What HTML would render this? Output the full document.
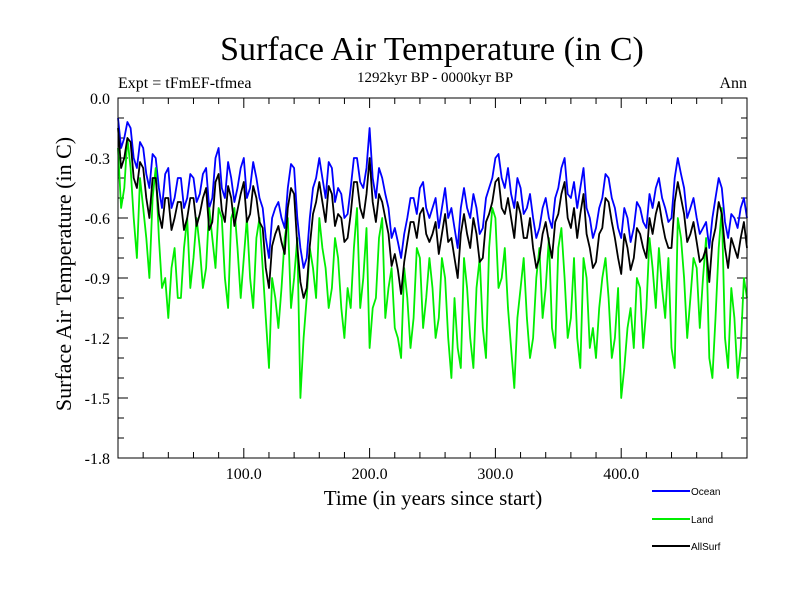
<!DOCTYPE html>
<html><head><meta charset="utf-8"><style>
body{margin:0;background:#fff;}
svg{display:block;font-family:"Liberation Serif",serif;}
</style></head><body>
<svg id="chart" width="800" height="600" viewBox="0 0 800 600">
<text x="432" y="60" font-size="34" text-anchor="middle">Surface Air Temperature (in C)</text>
<text x="118" y="88" font-size="16">Expt = tFmEF-tfmea</text>
<text x="435" y="82" font-size="15" text-anchor="middle">1292kyr BP - 0000kyr BP</text>
<text x="747" y="88" font-size="16" text-anchor="end">Ann</text>
<text transform="translate(71,274) rotate(-90)" font-size="22" text-anchor="middle">Surface Air Temperature (in C)</text>
<text x="433" y="505" font-size="21" text-anchor="middle">Time (in years since start)</text>
<g id="ticks"></g>
<g id="series"></g>
<rect x="118" y="98" width="629" height="360" fill="none" stroke="#000" stroke-width="1"/>
<g font-family="Liberation Sans, sans-serif" font-size="10">
<line x1="652" y1="491" x2="690" y2="491" stroke="#0000ff" stroke-width="2"/>
<text x="691" y="495">Ocean</text>
<line x1="652" y1="519" x2="690" y2="519" stroke="#00ee00" stroke-width="2"/>
<text x="691" y="523">Land</text>
<line x1="652" y1="546" x2="690" y2="546" stroke="#000" stroke-width="2"/>
<text x="691" y="550">AllSurf</text>
</g>
</svg>
<script>
const ocean = [-0.10,-0.20,-0.15,-0.35,-0.25,-0.45,-0.30,-0.55,-0.35,-0.50,-0.40,-0.50,-0.40,-0.48,-0.35,-0.50,-0.25,-0.50,-0.40,-0.45,-0.30,-0.45,-0.40,-0.55,-0.80,-0.55,-0.60,-0.45,-0.35,-0.75,-0.80,-0.45,-0.30,-0.50,-0.35,-0.45,-0.60,-0.45,-0.30,-0.45,-0.15,-0.50,-0.40,-0.55,-0.65,-0.80,-0.60,-0.50,-0.45,-0.55,
-0.55,-0.65,-0.45,-0.55,-0.75,-0.45,-0.60,-0.55,-0.65,-0.45,-0.30,-0.40,-0.35,-0.55,-0.45,-0.55,-0.60,-0.65,-0.50,-0.65,-0.45,-0.30,-0.50,-0.55,-0.35,-0.60,-0.65,-0.50,-0.40,-0.55,-0.70,-0.60,-0.65,-0.55,-0.65,-0.55,-0.40,-0.55,-0.60,-0.30,-0.45,-0.55,-0.60,-0.65,-0.75,-0.50,-0.45,-0.70,-0.60,-0.55,-0.60];
const oceanMid = [-0.25,-0.12,-0.30,-0.22,-0.38,-0.28,-0.45,-0.38,-0.55,-0.40,-0.55,-0.38,-0.52,-0.38,-0.55,-0.30,-0.45,-0.32,-0.52,-0.35,-0.50,-0.32,-0.50,-0.70,-0.60,-0.52,-0.65,-0.33,-0.60,-0.85,-0.60,-0.40,-0.40,-0.32,-0.52,-0.48,-0.58,-0.30,-0.42,-0.35,-0.40,-0.35,-0.48,-0.70,-0.72,-0.68,-0.50,-0.58,-0.42,-0.60,
-0.50,-0.55,-0.60,-0.65,-0.55,-0.55,-0.48,-0.68,-0.50,-0.40,-0.28,-0.45,-0.48,-0.40,-0.58,-0.48,-0.70,-0.55,-0.60,-0.50,-0.35,-0.48,-0.42,-0.45,-0.55,-0.70,-0.55,-0.38,-0.50,-0.65,-0.55,-0.72,-0.52,-0.62,-0.48,-0.45,-0.50,-0.62,-0.40,-0.38,-0.60,-0.50,-0.68,-0.62,-0.60,-0.40,-0.62,-0.58,-0.65,-0.50];
const land = [-0.25,-0.45,-0.35,-0.80,-0.55,-0.90,-0.35,-0.95,-1.10,-0.75,-1.00,-0.60,-0.80,-0.75,-0.85,-0.70,-0.55,-0.90,-0.60,-0.75,-0.80,-0.90,-0.70,-0.85,-1.35,-1.00,-0.95,-0.60,-0.90,-1.50,-1.00,-0.85,-0.60,-0.85,-0.95,-0.80,-1.20,-1.05,-0.55,-0.90,-1.25,-1.00,-0.60,-0.95,-1.15,-1.30,-1.00,-1.10,-0.80,-1.00,
-0.95,-1.10,-0.90,-1.40,-1.25,-0.80,-1.20,-0.95,-1.15,-0.75,-0.60,-0.90,-1.05,-1.45,-0.95,-1.10,-1.20,-0.75,-0.95,-1.15,-0.75,-0.90,-1.10,-1.20,-0.80,-1.25,-1.30,-0.90,-1.00,-1.20,-1.50,-1.15,-1.25,-0.95,-1.05,-0.85,-0.75,-1.10,-1.25,-0.60,-0.90,-1.00,-0.85,-0.90,-1.30,-1.10,-0.55,-1.35,-1.10,-1.25,-1.00];
const landMid = [-0.55,-0.20,-0.60,-0.40,-0.70,-0.50,-0.70,-0.90,-0.85,-1.00,-0.75,-0.95,-0.60,-0.95,-0.55,-0.85,-0.60,-1.05,-0.55,-1.00,-0.60,-1.05,-0.60,-1.10,-0.90,-1.15,-0.70,-1.05,-0.70,-1.20,-0.75,-1.00,-0.75,-1.05,-0.70,-1.05,-0.95,-0.75,-1.05,-0.65,-1.05,-0.70,-1.10,-0.85,-1.20,-0.85,-1.25,-0.75,-1.15,-0.80,
-1.20,-0.80,-1.20,-1.00,-1.35,-0.95,-1.35,-0.80,-1.30,-0.55,-0.95,-0.75,-1.25,-1.10,-0.80,-1.30,-0.90,-1.10,-0.70,-1.25,-0.65,-1.20,-0.80,-1.35,-0.90,-1.15,-1.05,-0.80,-1.30,-0.95,-1.35,-1.05,-0.90,-1.25,-0.70,-1.05,-0.95,-0.80,-1.35,-0.70,-1.20,-0.80,-1.15,-0.70,-1.40,-0.75,-1.20,-0.95,-1.40,-0.90];
const allsurf = [-0.15,-0.30,-0.22,-0.45,-0.35,-0.60,-0.40,-0.65,-0.50,-0.60,-0.52,-0.60,-0.50,-0.58,-0.45,-0.62,-0.38,-0.62,-0.50,-0.56,-0.42,-0.58,-0.50,-0.65,-0.95,-0.68,-0.72,-0.55,-0.48,-0.92,-0.95,-0.58,-0.42,-0.62,-0.48,-0.58,-0.72,-0.58,-0.42,-0.60,-0.30,-0.62,-0.52,-0.68,-0.78,-0.98,-0.72,-0.62,-0.58,-0.68,
-0.68,-0.78,-0.58,-0.70,-0.90,-0.58,-0.75,-0.68,-0.80,-0.58,-0.42,-0.55,-0.50,-0.70,-0.58,-0.70,-0.75,-0.80,-0.62,-0.80,-0.58,-0.42,-0.65,-0.70,-0.48,-0.75,-0.82,-0.65,-0.52,-0.70,-0.88,-0.75,-0.80,-0.68,-0.80,-0.68,-0.52,-0.70,-0.75,-0.42,-0.58,-0.68,-0.72,-0.80,-0.92,-0.65,-0.58,-0.85,-0.75,-0.70,-0.75];
const allsurfMid = [-0.35,-0.20,-0.40,-0.32,-0.50,-0.40,-0.58,-0.50,-0.66,-0.52,-0.66,-0.50,-0.64,-0.50,-0.66,-0.42,-0.56,-0.44,-0.64,-0.48,-0.62,-0.44,-0.62,-0.85,-0.74,-0.64,-0.78,-0.45,-0.74,-1.00,-0.74,-0.52,-0.52,-0.44,-0.64,-0.60,-0.70,-0.42,-0.55,-0.48,-0.52,-0.48,-0.60,-0.84,-0.86,-0.82,-0.62,-0.70,-0.55,-0.72,
-0.62,-0.68,-0.72,-0.80,-0.68,-0.68,-0.60,-0.82,-0.62,-0.52,-0.40,-0.58,-0.60,-0.52,-0.70,-0.60,-0.85,-0.68,-0.72,-0.62,-0.48,-0.60,-0.55,-0.58,-0.68,-0.85,-0.68,-0.50,-0.62,-0.80,-0.68,-0.86,-0.65,-0.75,-0.60,-0.58,-0.62,-0.75,-0.52,-0.50,-0.72,-0.62,-0.82,-0.75,-0.72,-0.52,-0.75,-0.70,-0.80,-0.62];
const yTicks = [0.0,-0.3,-0.6,-0.9,-1.2,-1.5,-1.8];
const yTickLabels = ["0.0","-0.3","-0.6","-0.9","-1.2","-1.5","-1.8"];
const xTicks = [100,200,300,400];
const xTickLabels = ["100.0","200.0","300.0","400.0"];
const STEP = 5;

const X0=118,X1=747,Y0=98,Y1=458, XMIN=0,XMAX=500, YMAX=0,YMIN=-1.8;
function xs(v){return X0+(v-XMIN)/(XMAX-XMIN)*(X1-X0);}
function ys(v){return Y0+(YMAX-v)/(YMAX-YMIN)*(Y1-Y0);}
const NS="http://www.w3.org/2000/svg";
const tg=document.getElementById('ticks');
function ln(x1,y1,x2,y2,name){const l=document.createElementNS(NS,'line');
l.setAttribute('x1',x1);l.setAttribute('y1',y1);l.setAttribute('x2',x2);l.setAttribute('y2',y2);
l.setAttribute('stroke','#000');l.setAttribute('stroke-width','1');


tg.appendChild(l);}
for(let k=0;k<=18;k++){const v=-k*0.1;const y=ys(v);const L=(k%3===0)?10:6;
ln(X0,y,X0+L,y,'y-tick');ln(X1-L,y,X1,y,'y-tick-right');}
for(let k=0;k<=25;k++){const v=k*20;const x=xs(v);const L=(v%100===0)?10:6;
ln(x,Y1,x,Y1-L,'x-tick');ln(x,Y0,x,Y0+L,'x-tick-top');}
yTicks.forEach((v,i)=>{const t=document.createElementNS(NS,'text');
t.setAttribute('x',110);t.setAttribute('y',ys(v)+6);t.setAttribute('text-anchor','end');t.setAttribute('font-size','16');
t.textContent=yTickLabels[i];


tg.appendChild(t);});
xTicks.forEach((v,i)=>{const t=document.createElementNS(NS,'text');
t.setAttribute('x',xs(v));t.setAttribute('y',479);t.setAttribute('text-anchor','middle');t.setAttribute('font-size','16');
t.textContent=xTickLabels[i];


tg.appendChild(t);});
const sg=document.getElementById('series');
function series(main,mid,color,name){
const pts=[];
for(let i=0;i<main.length;i++){
pts.push(xs(i*STEP).toFixed(1)+','+ys(main[i]).toFixed(1));
if(i<mid.length) pts.push(xs(i*STEP+STEP/2).toFixed(1)+','+ys(mid[i]).toFixed(1));
}
const p=document.createElementNS(NS,'polyline');
p.setAttribute('points',pts.join(' '));
p.setAttribute('fill','none');p.setAttribute('stroke',color);p.setAttribute('stroke-width','1.8');p.setAttribute('stroke-linejoin','round');


sg.appendChild(p);}
series(ocean,oceanMid,'#0000ff','ocean-line');
series(land,landMid,'#00ee00','land-line');
series(allsurf,allsurfMid,'#000000','allsurf-line');
</script>
</body></html>
